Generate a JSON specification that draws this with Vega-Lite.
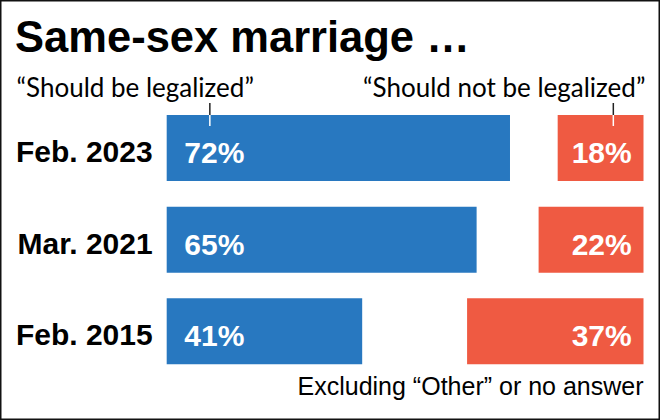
{
  "$schema": "https://vega.github.io/schema/vega-lite/v6.json",
  "width": 660,
  "height": 420,
  "padding": 0,
  "autosize": {"type": "fit", "contains": "padding"},
  "background": "white",
  "config": {"view": {"stroke": "#111111", "strokeWidth": 3}},
  "data": {"values": [
    {"period": "Feb. 2023", "yes": 72, "no": 18},
    {"period": "Mar. 2021", "yes": 65, "no": 22},
    {"period": "Feb. 2015", "yes": 41, "no": 37}
  ]},
  "encoding": {
    "y": {"field": "period", "type": "nominal", "sort": ["Feb. 2023", "Mar. 2021", "Feb. 2015"], "axis": null,
          "scale": {"paddingInner": 0.28, "paddingOuter": 0.9313, "align": 0.6737}}
  },
  "resolve": {"scale": {"x": "independent"}},
  "layer": [
    {
      "layer": [
        {
          "mark": {"type": "bar", "color": "#2878C0"},
          "encoding": {
            "x": {"field": "yes", "type": "quantitative", "axis": null, "scale": {"domain": [-34.96, 103.46], "nice": false, "zero": false}},
            "x2": {"datum": 0}
          }
        },
        {
          "mark": {"type": "text", "align": "left", "baseline": "alphabetic", "dy": 15, "font": "Liberation Sans", "fontWeight": "bold", "fontSize": 30, "color": "white", "text": {"expr": "datum.yes + '%'"}},
          "encoding": {
            "x": {"datum": 3.7, "type": "quantitative", "axis": null, "scale": {"domain": [-34.96, 103.46], "nice": false, "zero": false}}
          }
        },
        {
          "mark": {"type": "text", "align": "right", "baseline": "alphabetic", "dy": 14, "font": "Liberation Sans", "fontWeight": "bold", "fontSize": 30, "color": "black"},
          "encoding": {
            "x": {"datum": -2.94, "type": "quantitative", "axis": null, "scale": {"domain": [-34.96, 103.46], "nice": false, "zero": false}},
            "text": {"field": "period", "type": "nominal"}
          }
        },
        {
          "data": {"values": [{"t": "Same-sex marriage …"}]},
          "mark": {"type": "text", "align": "left", "baseline": "alphabetic", "font": "Liberation Sans", "fontWeight": "bold", "fontSize": 43.5, "color": "black"},
          "encoding": {
            "x": {"datum": -31.8, "type": "quantitative", "axis": null, "scale": {"domain": [-34.96, 103.46], "nice": false, "zero": false}},
            "y": {"value": 52},
            "text": {"field": "t", "type": "nominal"}
          }
        },
        {
          "data": {"values": [{"t": "“Should be legalized”"}]},
          "mark": {"type": "text", "align": "left", "baseline": "alphabetic", "font": "Lato", "fontSize": 26, "color": "black"},
          "encoding": {
            "x": {"datum": -31.5, "type": "quantitative", "axis": null, "scale": {"domain": [-34.96, 103.46], "nice": false, "zero": false}},
            "y": {"value": 97},
            "text": {"field": "t", "type": "nominal"}
          }
        },
        {
          "data": {"values": [{"t": "“Should not be legalized”"}]},
          "mark": {"type": "text", "align": "right", "baseline": "alphabetic", "font": "Lato", "fontSize": 26, "color": "black"},
          "encoding": {
            "x": {"datum": 100.4, "type": "quantitative", "axis": null, "scale": {"domain": [-34.96, 103.46], "nice": false, "zero": false}},
            "y": {"value": 97},
            "text": {"field": "t", "type": "nominal"}
          }
        },
        {
          "data": {"values": [{"t": "Excluding “Other” or no answer"}]},
          "mark": {"type": "text", "align": "right", "baseline": "alphabetic", "font": "Liberation Sans", "fontSize": 25, "color": "black"},
          "encoding": {
            "x": {"datum": 100.0, "type": "quantitative", "axis": null, "scale": {"domain": [-34.96, 103.46], "nice": false, "zero": false}},
            "y": {"value": 395},
            "text": {"field": "t", "type": "nominal"}
          }
        },
        {
          "data": {"values": [{}]},
          "mark": {"type": "rule", "color": "#222222", "strokeWidth": 1.5},
          "encoding": {
            "x": {"datum": 9.05, "type": "quantitative", "axis": null, "scale": {"domain": [-34.96, 103.46], "nice": false, "zero": false}},
            "y": {"value": 103},
            "y2": {"value": 115}
          }
        },
        {
          "data": {"values": [{}]},
          "mark": {"type": "rule", "color": "white", "strokeWidth": 1.5},
          "encoding": {
            "x": {"datum": 9.05, "type": "quantitative", "axis": null, "scale": {"domain": [-34.96, 103.46], "nice": false, "zero": false}},
            "y": {"value": 115},
            "y2": {"value": 126}
          }
        }
      ]
    },
    {
      "layer": [
        {
          "mark": {"type": "bar", "color": "#EF5A42"},
          "encoding": {
            "x": {"field": "no", "type": "quantitative", "axis": null, "scale": {"domain": [-3.46, 134.96], "reverse": true, "nice": false, "zero": false}},
            "x2": {"datum": 0}
          }
        },
        {
          "mark": {"type": "text", "align": "right", "baseline": "alphabetic", "dy": 15, "font": "Liberation Sans", "fontWeight": "bold", "fontSize": 30, "color": "white", "text": {"expr": "datum.no + '%'"}},
          "encoding": {
            "x": {"datum": 2.47, "type": "quantitative", "axis": null, "scale": {"domain": [-3.46, 134.96], "reverse": true, "nice": false, "zero": false}}
          }
        },
        {
          "data": {"values": [{}]},
          "mark": {"type": "rule", "color": "#222222", "strokeWidth": 1.5},
          "encoding": {
            "x": {"datum": 6.33, "type": "quantitative", "axis": null, "scale": {"domain": [-3.46, 134.96], "reverse": true, "nice": false, "zero": false}},
            "y": {"value": 103},
            "y2": {"value": 115}
          }
        },
        {
          "data": {"values": [{}]},
          "mark": {"type": "rule", "color": "white", "strokeWidth": 1.5},
          "encoding": {
            "x": {"datum": 6.33, "type": "quantitative", "axis": null, "scale": {"domain": [-3.46, 134.96], "reverse": true, "nice": false, "zero": false}},
            "y": {"value": 115},
            "y2": {"value": 126}
          }
        }
      ]
    }
  ]
}
